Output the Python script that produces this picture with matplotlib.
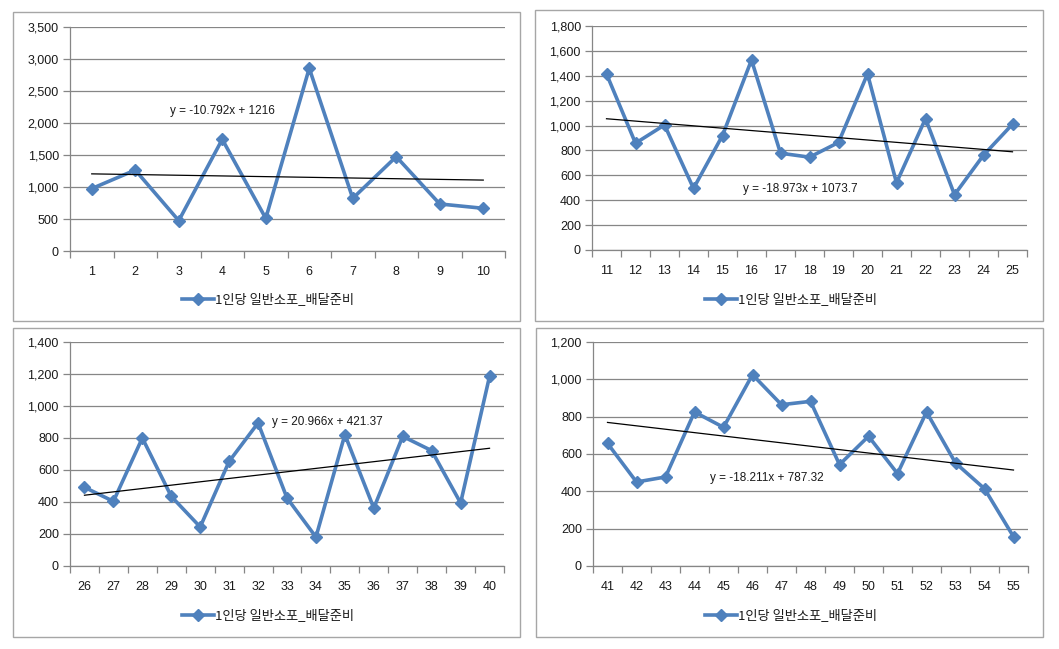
import matplotlib
matplotlib.use("Agg")
import matplotlib.pyplot as plt
from matplotlib.patches import Rectangle
from matplotlib.ticker import FuncFormatter, FixedLocator
from matplotlib.lines import Line2D

# ---------------- data ----------------
series_name = "1인당 일반소포_배달준비"

cats_1 = list(range(1, 11))
vals_1 = [975, 1265, 474, 1745, 510, 2855, 823, 1474, 735, 667]
eq_1 = "y = -10.792x + 1216"
slope_1, icpt_1 = -10.792, 1216
ymax_1, ystep_1 = 3500, 500

cats_2 = list(range(11, 26))
vals_2 = [1415, 858, 1005, 495, 920, 1527, 778, 746, 864, 1415, 540, 1056, 444, 762, 1011]
eq_2 = "y = -18.973x + 1073.7"
slope_2, icpt_2 = -18.973, 1073.7
ymax_2, ystep_2 = 1800, 200

cats_3 = list(range(26, 41))
vals_3 = [492, 404, 800, 435, 244, 654, 894, 425, 181, 821, 362, 810, 721, 394, 1185]
eq_3 = "y = 20.966x + 421.37"
slope_3, icpt_3 = 20.966, 421.37
ymax_3, ystep_3 = 1400, 200

cats_4 = list(range(41, 56))
vals_4 = [657, 450, 477, 825, 743, 1025, 864, 882, 543, 695, 495, 825, 552, 414, 157]
eq_4 = "y = -18.211x + 787.32"
slope_4, icpt_4 = -18.211, 787.32
ymax_4, ystep_4 = 1200, 200

# ---------------- style ----------------
W, H = 1059, 649
LINE_C = "#4F81BD"
GRID_C = "#868686"
TEXT_C = "#1a1a1a"
TICK_FONT = "Liberation Sans"
KR_FONT = ["Noto Sans CJK KR", "DejaVu Sans"]

fig = plt.figure(figsize=(W / 100, H / 100), dpi=100)
fig.patch.set_facecolor("white")


def px_rect(x0, y0, x1, y1):
    return [x0 / W, 1 - y1 / H, (x1 - x0) / W, (y1 - y0) / H]


panels = [
    dict(box=(13, 12, 520, 321), plot=(70, 27, 505, 251), cats=cats_1, vals=vals_1,
         eq=eq_1, slope=slope_1, icpt=icpt_1, ymax=ymax_1, ystep=ystep_1,
         eqpos=(1.80, 2190), leg=(268, 300)),
    dict(box=(535, 10, 1043, 321), plot=(592, 26, 1027, 250), cats=cats_2, vals=vals_2,
         eq=eq_2, slope=slope_2, icpt=icpt_2, ymax=ymax_2, ystep=ystep_2,
         eqpos=(4.71, 490), leg=(791, 300)),
    dict(box=(13, 328, 520, 637), plot=(70, 342, 504, 566), cats=cats_3, vals=vals_3,
         eq=eq_3, slope=slope_3, icpt=icpt_3, ymax=ymax_3, ystep=ystep_3,
         eqpos=(6.49, 900), leg=(268, 616)),
    dict(box=(536, 328, 1043, 637), plot=(593, 342, 1028, 566), cats=cats_4, vals=vals_4,
         eq=eq_4, slope=slope_4, icpt=icpt_4, ymax=ymax_4, ystep=ystep_4,
         eqpos=(3.53, 471), leg=(791, 616)),
]

for p in panels:
    x0, y0, x1, y1 = p["box"]
    fig.patches.append(Rectangle((x0 / W, 1 - y1 / H), (x1 - x0) / W, (y1 - y0) / H,
                                 transform=fig.transFigure, fill=False,
                                 edgecolor="#A6A6A6", linewidth=1.0))

    ax = fig.add_axes(px_rect(*p["plot"]))
    n = len(p["cats"])
    xs = list(range(n))
    ax.set_xlim(-0.5, n - 0.5)
    ax.set_ylim(0, p["ymax"])

    yt = list(range(0, p["ymax"] + 1, p["ystep"]))
    ax.set_yticks(yt)
    ax.yaxis.set_major_formatter(FuncFormatter(lambda v, _: f"{int(v):,}"))
    ax.grid(axis="y", color=GRID_C, linewidth=0.9)
    ax.set_axisbelow(True)

    ax.set_xticks(xs)
    ax.set_xticklabels([str(c) for c in p["cats"]])
    ax.xaxis.set_minor_locator(FixedLocator([i - 0.5 for i in range(n + 1)]))
    ax.tick_params(axis="x", which="major", length=0, pad=11, labelsize=9,
                   labelcolor=TEXT_C)
    ax.tick_params(axis="x", which="minor", length=5, color=GRID_C, width=0.9, direction="out")
    ax.tick_params(axis="y", which="major", length=5, color=GRID_C, width=0.9,
                   labelsize=9, pad=3, labelcolor=TEXT_C)
    for lab in ax.get_xticklabels() + ax.get_yticklabels():
        lab.set_fontfamily(TICK_FONT)

    for s in ["top", "right"]:
        ax.spines[s].set_visible(False)
    ax.spines["left"].set_color(GRID_C)
    ax.spines["bottom"].set_color(GRID_C)
    ax.spines["left"].set_linewidth(0.9)
    ax.spines["bottom"].set_linewidth(0.9)

    ax.plot(xs, p["vals"], color=LINE_C, linewidth=2.6, marker="D", markersize=6.5,
            markerfacecolor=LINE_C, markeredgecolor=LINE_C, zorder=3)

    # trend line (equation uses x = 1..n)
    tx = [0, n - 1]
    ty = [p["slope"] * (i + 1) + p["icpt"] for i in tx]
    ax.plot(tx, ty, color="black", linewidth=0.9, zorder=4)

    ax.text(p["eqpos"][0], p["eqpos"][1], p["eq"], fontsize=8.5, family=TICK_FONT,
            color=TEXT_C, ha="left", va="center", zorder=5)

    lx, ly = p["leg"]
    handle = Line2D([0], [0], color=LINE_C, linewidth=2.6, marker="D", markersize=6.5,
                    markerfacecolor=LINE_C, markeredgecolor=LINE_C)
    leg = fig.legend([handle], [series_name], loc="center",
                     bbox_to_anchor=(lx / W, 1 - ly / H), frameon=False,
                     prop={"family": KR_FONT, "size": 9.5}, handlelength=2.4,
                     handletextpad=0.05, borderpad=0, labelcolor=TEXT_C)

fig.savefig("out.png", dpi=100, facecolor="white")
